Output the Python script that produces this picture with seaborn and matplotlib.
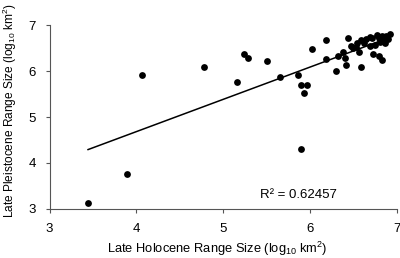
import numpy as np
import pandas as pd
import matplotlib
matplotlib.use("Agg")
import matplotlib.pyplot as plt
import seaborn as sns

# values
holocene = [3.44, 3.89, 4.07, 4.78, 5.16, 5.24, 5.28, 5.51, 5.65, 5.86,
            5.90, 5.96, 5.93, 5.90, 6.02, 6.19, 6.18, 6.44, 6.30, 6.32,
            6.41, 6.38, 6.40, 6.59, 6.53, 6.56, 6.59, 6.69, 6.69, 6.73,
            6.79, 6.83, 6.77, 6.83, 6.88, 6.92, 6.81, 6.86, 6.90, 6.75,
            6.84, 6.50, 6.54, 6.47, 6.62, 6.65, 6.72, 6.80]
pleistocene = [3.13, 3.76, 5.91, 6.09, 5.77, 6.36, 6.29, 6.22, 5.88, 5.91,
               5.70, 5.70, 5.53, 4.30, 6.47, 6.67, 6.27, 6.72, 6.00, 6.33,
               6.13, 6.42, 6.28, 6.09, 6.53, 6.42, 6.67, 6.75, 6.54, 6.38,
               6.33, 6.24, 6.78, 6.76, 6.76, 6.80, 6.64, 6.60, 6.69, 6.57,
               6.67, 6.49, 6.60, 6.55, 6.62, 6.70, 6.72, 6.72]
r2_label = "R² = 0.62457"
ticks = [3, 4, 5, 6, 7]

df = pd.DataFrame({"holocene": holocene, "pleistocene": pleistocene})

sns.set_theme(style="ticks")
plt.rcParams["font.family"] = ["Liberation Sans", "DejaVu Sans"]
plt.rcParams["mathtext.default"] = "regular"
plt.rcParams["text.color"] = "black"
plt.rcParams["axes.labelcolor"] = "black"
plt.rcParams["xtick.color"] = "#555555"
plt.rcParams["ytick.color"] = "#555555"
plt.rcParams["xtick.labelcolor"] = "black"
plt.rcParams["ytick.labelcolor"] = "black"

fig = plt.figure(figsize=(4.0, 2.58), dpi=100)
ax = fig.add_axes([0.124, 0.19, 0.868, 0.713])

sns.regplot(data=df, x="holocene", y="pleistocene", ci=None, ax=ax,
            color="black",
            scatter_kws={"s": 24, "linewidths": 0, "alpha": 1},
            line_kws={"linewidth": 1.1})

ax.set_xlim(3, 7)
ax.set_ylim(3, 7)
ax.set_xticks(ticks)
ax.set_yticks(ticks)
ax.tick_params(axis="x", labelsize=9.5, length=3, width=0.8, pad=7)
ax.tick_params(axis="y", labelsize=9.5, length=3, width=0.8, pad=7)
for s in ["left", "bottom"]:
    ax.spines[s].set_color("#555555")
    ax.spines[s].set_linewidth(0.8)
sns.despine(ax=ax)

ax.set_xlabel("Late Holocene Range Size (log$_{10}$ km$^2$)", fontsize=9.3)
ax.set_ylabel("Late Pleistocene Range Size (log$_{10}$ km$^2$)", fontsize=8.6)
ax.xaxis.set_label_coords(0.484, -0.165)
ax.yaxis.set_label_coords(-0.088, 0.535)
ax.text(5.42, 3.30, r2_label, fontsize=9.5, va="center")

fig.savefig("out.png", dpi=100)
